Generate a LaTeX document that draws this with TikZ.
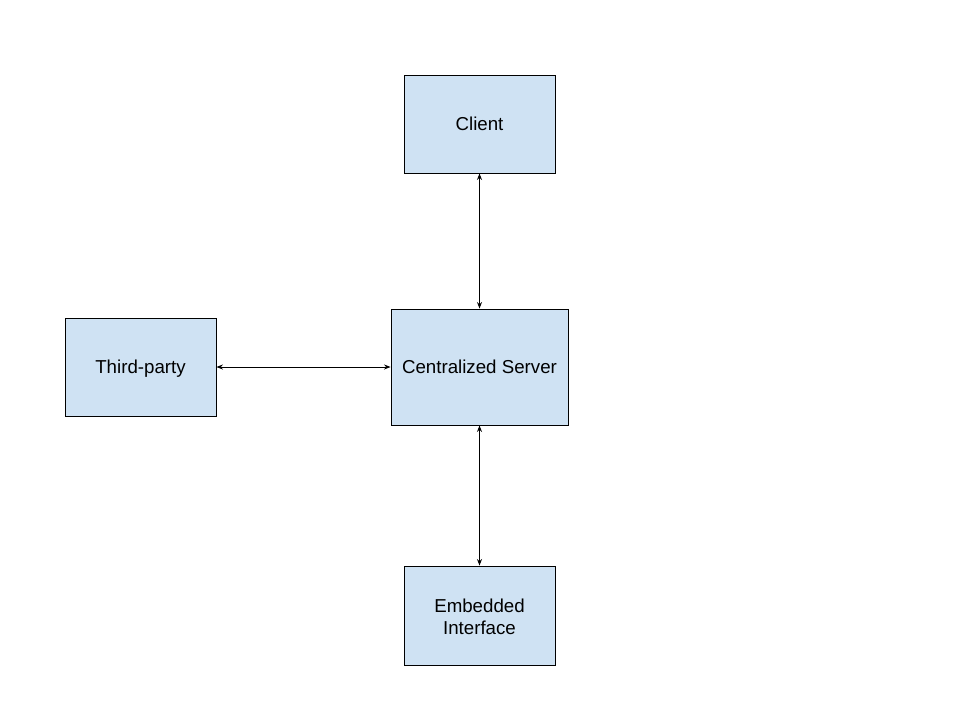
\documentclass[tikz,border=0pt]{standalone}
\usepackage{fontspec}
\setmainfont{Liberation Sans}
\usetikzlibrary{arrows.meta}
\definecolor{boxfill}{HTML}{CFE2F3}
\begin{document}
\begin{tikzpicture}[x=1pt,y=-1pt,
  box/.style={draw=black,fill=boxfill,line width=0.9pt,inner sep=0pt,align=center,font=\fontsize{18.7}{22.5}\selectfont},
  oneline/.style={text height=13.5pt,text depth=0pt},
  link/.style={line width=0.9pt,{Stealth[length=6.5pt,width=5pt]}-{Stealth[length=6.5pt,width=5pt]}}]
\useasboundingbox (0,0) rectangle (960,720);
\fill[white] (0,0) rectangle (960,720);
\node[box,oneline,minimum width=151pt,minimum height=98pt] (client) at (479.5,124) {Client};
\node[box,oneline,minimum width=177pt,minimum height=116pt] (server) at (479.5,367) {Centralized Server};
\node[box,oneline,minimum width=151pt,minimum height=98pt] (third) at (140.5,367) {Third-party};
\node[box,minimum width=151pt,minimum height=99pt] (embed) at (479.5,615.5) {\rule{0pt}{16pt}Embedded\\Interface};
\draw[link] (client.south) -- (server.north);
\draw[link] (third.east) -- (server.west);
\draw[link] (server.south) -- (embed.north);
\end{tikzpicture}
\end{document}
